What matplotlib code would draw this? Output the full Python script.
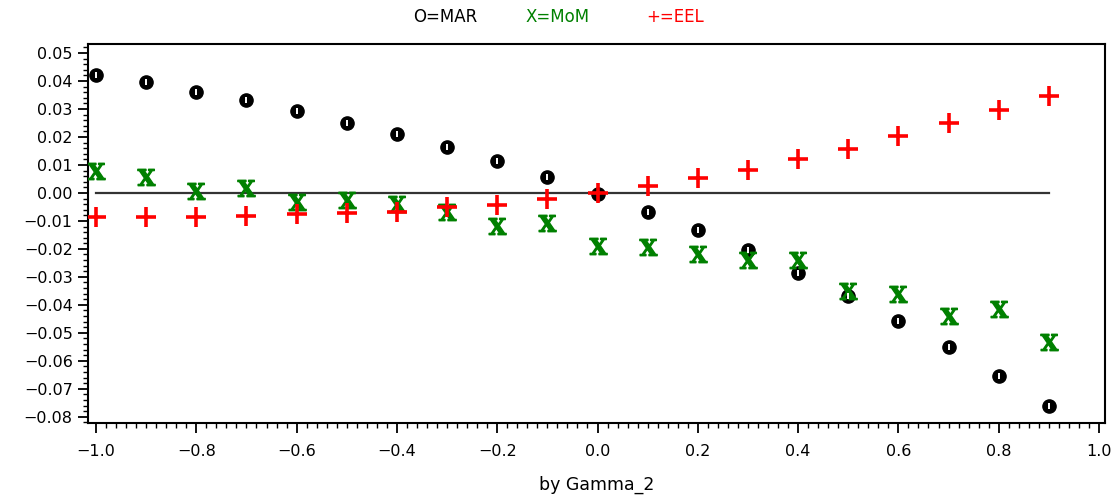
import numpy as np
import matplotlib
matplotlib.use("Agg")
import matplotlib.pyplot as plt
from matplotlib.ticker import MultipleLocator, AutoMinorLocator

# --- data ---
gamma = [-1.0, -0.9, -0.8, -0.7, -0.6, -0.5, -0.4, -0.3, -0.2, -0.1,
         0.0, 0.1, 0.2, 0.3, 0.4, 0.5, 0.6, 0.7, 0.8, 0.9]

mar = [0.0420, 0.0396, 0.0361, 0.0332, 0.0292, 0.0251, 0.0212, 0.0163, 0.0113, 0.0058,
       -0.0003, -0.0067, -0.0132, -0.0204, -0.0287, -0.0370, -0.0456, -0.0549, -0.0654, -0.0760]

mom = [0.0077, 0.0058, 0.0008, 0.0019, -0.0031, -0.0027, -0.0039, -0.0068, -0.0118, -0.0106,
       -0.0188, -0.0192, -0.0217, -0.0240, -0.0238, -0.0352, -0.0361, -0.0439, -0.0415, -0.0531]

eel = [-0.0087, -0.0087, -0.0087, -0.0082, -0.0076, -0.0070, -0.0067, -0.0051, -0.0042, -0.0021,
       0.0000, 0.0023, 0.0052, 0.0082, 0.0120, 0.0157, 0.0203, 0.0249, 0.0296, 0.0348]

plt.rcParams['font.family'] = ['DejaVu Sans']
plt.rcParams['mathtext.fontset'] = 'dejavuserif'

fig = plt.figure(figsize=(11.14, 4.97), dpi=100)
ax = fig.add_axes([88 / 1114, 1 - 423 / 497, (1105 - 88) / 1114, (423 - 44) / 497])

# reference line at zero across the data range
ax.plot([gamma[0], gamma[-1]], [0, 0], color='#333333', lw=1.6, zorder=1)

# MAR: bold "O" glyph look - solid black with a small white slot
ax.plot(gamma, mar, linestyle='none', marker='o', ms=9.5, color='black', zorder=3)
ax.plot(gamma, mar, linestyle='none', marker='|', ms=4, mew=1.4, color='white', zorder=3.1)
ax.plot(gamma, mom, linestyle='none', marker=r'$\mathbf{X}$', ms=12.5,
        color='#008000', zorder=3)
ax.plot(gamma, eel, linestyle='none', marker='+', ms=14, mew=2.6,
        color='#ff0000', zorder=4)

ax.set_xlim(-1.016, 1.012)
ax.set_ylim(-0.0822, 0.0532)
ax.xaxis.set_major_locator(MultipleLocator(0.2))
ax.xaxis.set_minor_locator(AutoMinorLocator(10))
ax.yaxis.set_major_locator(MultipleLocator(0.01))
ax.yaxis.set_minor_locator(AutoMinorLocator(5))
ax.xaxis.set_major_formatter(plt.FuncFormatter(lambda v, p: f"{v:.1f}".replace('-', '\u2212')))
ax.yaxis.set_major_formatter(plt.FuncFormatter(lambda v, p: f"{v:.2f}".replace('-', '\u2212')))

ax.tick_params(which='major', direction='out', length=7, width=1.3, labelsize=11.5)
ax.tick_params(axis='x', which='major', pad=8)
ax.tick_params(axis='y', which='major', pad=4)
ax.tick_params(which='minor', direction='out', length=3.5, width=1.0)
for s in ax.spines.values():
    s.set_linewidth(1.5)

# legend row at the top
fig.text(445 / 1114, 1 - 17 / 497, "O=MAR", color='black', fontsize=12, ha='center', va='center')
fig.text(558 / 1114, 1 - 17 / 497, "X=MoM", color='#008000', fontsize=12, ha='center', va='center')
fig.text(675 / 1114, 1 - 17 / 497, "+=EEL", color='#ff0000', fontsize=12, ha='center', va='center')

fig.text(597 / 1114, 1 - 485 / 497, "by Gamma_2", fontsize=12.5, ha='center', va='center')

fig.savefig("out.png", dpi=100)
